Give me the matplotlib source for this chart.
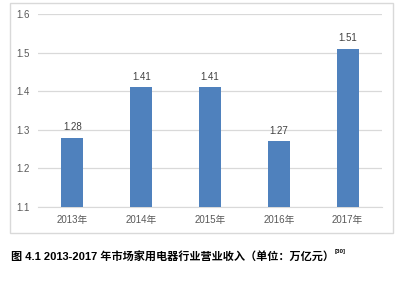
import matplotlib
matplotlib.use("Agg")
import matplotlib.pyplot as plt
from matplotlib.patches import Rectangle

plt.rcParams["font.family"] = ["Liberation Sans", "Noto Sans CJK SC", "DejaVu Sans"]

years = ["2013年", "2014年", "2015年", "2016年", "2017年"]
revenue = [1.28, 1.41, 1.41, 1.27, 1.51]
yticks = [1.1, 1.2, 1.3, 1.4, 1.5, 1.6]
caption = "图 4.1 2013-2017 年市场家用电器行业营业收入（单位：万亿元）"
cite = "[30]"

fig = plt.figure(figsize=(4.19, 2.85), dpi=100)
ax = fig.add_axes([0.0907, 0.2737, 0.821, 0.677])

# outer chart border
fig.patches.append(Rectangle((10 / 419, 1 - 233 / 285), 383 / 419, 230 / 285,
                             transform=fig.transFigure, fill=False,
                             edgecolor="#d9d9d9", linewidth=1))

x = range(len(years))
ax.bar(x, revenue, width=0.32, color="#4f81bd", zorder=3)
for xi, v in zip(x, revenue):
    ax.annotate(f"{v:.2f}", (xi, v), xytext=(0, 4), textcoords="offset points",
                ha="center", va="bottom", fontsize=7, color="#404040")

ax.set_xlim(-0.5, len(years) - 0.5)
ax.set_ylim(1.1, 1.6)
ax.set_yticks(yticks)
ax.set_yticklabels([f"{t:.1f}" for t in yticks])
ax.set_xticks(list(x))
ax.set_xticklabels(years)
ax.tick_params(axis="both", length=0, labelsize=7, labelcolor="#595959")
ax.tick_params(axis="y", pad=6)
ax.tick_params(axis="x", pad=6)
ax.grid(axis="y", color="#d9d9d9", linewidth=0.9, zorder=0)
for s in ["top", "right", "left"]:
    ax.spines[s].set_visible(False)
ax.spines["bottom"].set_color("#d9d9d9")

cap = fig.text(11 / 419, 1 - 257 / 285, caption, fontsize=8.0, fontweight="bold",
               ha="left", va="center")
fig.canvas.draw()
bb = cap.get_window_extent().transformed(fig.transFigure.inverted())
fig.text(bb.x1 + 1 / 419, 1 - 252 / 285, cite, fontsize=4.5, fontweight="bold",
         ha="left", va="center")

fig.savefig("out.png", dpi=100)
